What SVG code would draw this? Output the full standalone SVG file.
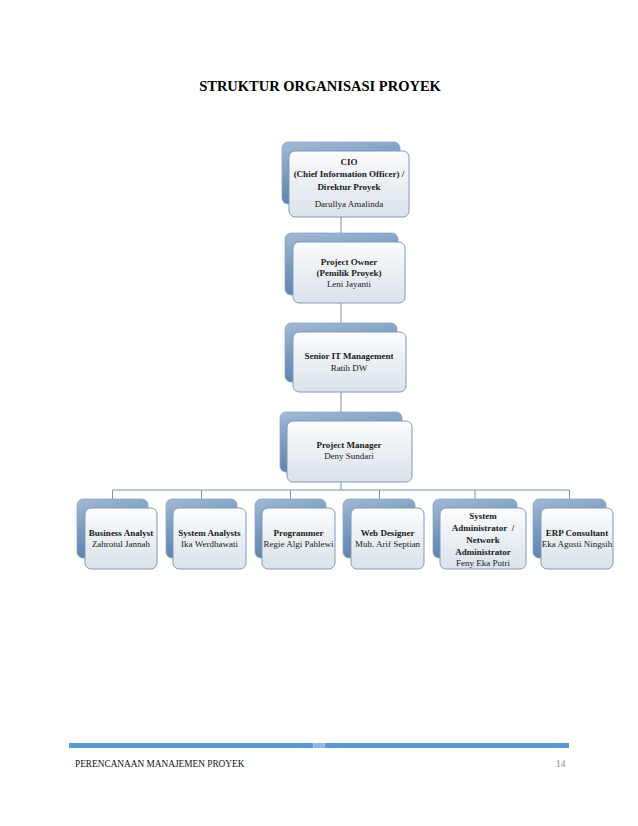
<svg xmlns="http://www.w3.org/2000/svg" width="638" height="826" viewBox="0 0 638 826">
<defs>
<linearGradient id="gBack" x1="0" y1="0" x2="0.3" y2="1">
<stop offset="0" stop-color="#a2bad5"/>
<stop offset="0.5" stop-color="#7a9bc0"/>
<stop offset="1" stop-color="#5a81ab"/>
</linearGradient>
<linearGradient id="gFront" x1="0" y1="0" x2="0" y2="1">
<stop offset="0" stop-color="#fbfcfd"/>
<stop offset="1" stop-color="#dbe2ea"/>
</linearGradient>
</defs>
<style>
.back{fill:url(#gBack);stroke:#8aa6c4;stroke-width:0.8}
.front{fill:url(#gFront);stroke:#7f9bb9;stroke-width:1}
.conn{fill:none;stroke:#7b93ab;stroke-width:1}
text{font-family:"Liberation Serif","Times New Roman",serif;fill:#1a1a1a;text-anchor:middle}
.t{font-size:9px;font-weight:bold}
.n{font-size:9px}
.title{font-size:14.5px;font-weight:bold;fill:#000}
.foot{font-size:9.3px;text-anchor:start;fill:#111}
.page{font-size:9.3px;text-anchor:start;fill:#8a8a8a}
</style>
<rect width="638" height="826" fill="#ffffff"/>
<text class="title" x="320" y="91">STRUKTUR ORGANISASI PROYEK</text>

<g id="connectors">
<line class="conn" x1="341" y1="217" x2="341" y2="233"/>
<line class="conn" x1="341" y1="303" x2="341" y2="323"/>
<line class="conn" x1="341" y1="392" x2="341" y2="412"/>
<line class="conn" x1="341" y1="482" x2="341" y2="490"/>
<polyline class="conn" points="112.5,499 112.5,490 569.5,490 569.5,499"/>
<line class="conn" x1="201.5" y1="490" x2="201.5" y2="499"/>
<line class="conn" x1="290.5" y1="490" x2="290.5" y2="499"/>
<line class="conn" x1="379.5" y1="490" x2="379.5" y2="499"/>
<line class="conn" x1="475" y1="490" x2="475" y2="499"/>
</g>

<g id="cio">
<rect class="back" x="282" y="142" width="118" height="62" rx="6"/>
<rect class="front" x="289" y="151" width="120" height="66" rx="6"/>
<text class="t" x="349" y="165">CIO</text>
<text class="t" x="349" y="177">(Chief Information Officer) /</text>
<text class="t" x="349" y="190">Direktur Proyek</text>
<text class="n" x="349" y="207">Darullya Amalinda</text>
</g>

<g id="project-owner">
<rect class="back" x="285" y="233" width="113" height="62" rx="6"/>
<rect class="front" x="293" y="242" width="112" height="61" rx="6"/>
<text class="t" x="349" y="265">Project Owner</text>
<text class="t" x="349" y="276">(Pemilik Proyek)</text>
<text class="n" x="349" y="287">Leni Jayanti</text>
</g>

<g id="senior-it">
<rect class="back" x="285" y="323" width="112" height="59" rx="6"/>
<rect class="front" x="293" y="332" width="113" height="60" rx="6"/>
<text class="t" x="349" y="359">Senior IT Management</text>
<text class="n" x="349" y="371">Ratih DW</text>
</g>

<g id="project-manager">
<rect class="back" x="280" y="412" width="122" height="60" rx="6"/>
<rect class="front" x="287" y="421" width="125" height="61" rx="6"/>
<text class="t" x="349" y="448">Project Manager</text>
<text class="n" x="349" y="459">Deny Sundari</text>
</g>

<g id="business-analyst">
<rect class="back" x="77" y="499" width="71" height="59" rx="6"/>
<rect class="front" x="85" y="508" width="72" height="61" rx="6"/>
<text class="t" x="121" y="536">Business Analyst</text>
<text class="n" x="121" y="547">Zahrotul Jannah</text>
</g>

<g id="system-analysts">
<rect class="back" x="166" y="499" width="71" height="59" rx="6"/>
<rect class="front" x="173" y="508" width="73" height="61" rx="6"/>
<text class="t" x="209.5" y="536">System Analysts</text>
<text class="n" x="209.5" y="547">Ika Werdhawati</text>
</g>

<g id="programmer">
<rect class="back" x="255" y="499" width="71" height="59" rx="6"/>
<rect class="front" x="262" y="508" width="73" height="61" rx="6"/>
<text class="t" x="298.5" y="536">Programmer</text>
<text class="n" x="298.5" y="547">Regie Algi Pahlewi</text>
</g>

<g id="web-designer">
<rect class="back" x="343" y="499" width="72" height="59" rx="6"/>
<rect class="front" x="351" y="508" width="73" height="61" rx="6"/>
<text class="t" x="387.5" y="536">Web Designer</text>
<text class="n" x="387.5" y="547">Muh. Arif Septian</text>
</g>

<g id="system-administrator">
<rect class="back" x="433" y="499" width="84" height="59" rx="6"/>
<rect class="front" x="440" y="508" width="86" height="61" rx="6"/>
<text class="t" x="483" y="519">System</text>
<text class="t" x="483" y="531">Administrator&#160; /</text>
<text class="t" x="483" y="543">Network</text>
<text class="t" x="483" y="555">Administrator</text>
<text class="n" x="483" y="566">Feny Eka Putri</text>
</g>

<g id="erp-consultant">
<rect class="back" x="533" y="499" width="73" height="59" rx="6"/>
<rect class="front" x="541" y="508" width="72" height="61" rx="6"/>
<text class="t" x="577" y="536">ERP Consultant</text>
<text class="n" x="577" y="547">Eka Agusti Ningsih</text>
</g>

<g id="footer">
<rect x="69" y="743" width="500" height="5" fill="#5b9bd5"/>
<rect x="313" y="743" width="12" height="5" fill="#9cc2e8"/>
<line x1="316" y1="743" x2="316" y2="748" stroke="#5b9bd5" stroke-width="0.7"/>
<line x1="319" y1="743" x2="319" y2="748" stroke="#5b9bd5" stroke-width="0.7"/>
<line x1="322" y1="743" x2="322" y2="748" stroke="#5b9bd5" stroke-width="0.7"/>
<text class="foot" x="75" y="767">PERENCANAAN MANAJEMEN PROYEK</text>
<text class="page" x="556" y="767">14</text>
</g>
</svg>
